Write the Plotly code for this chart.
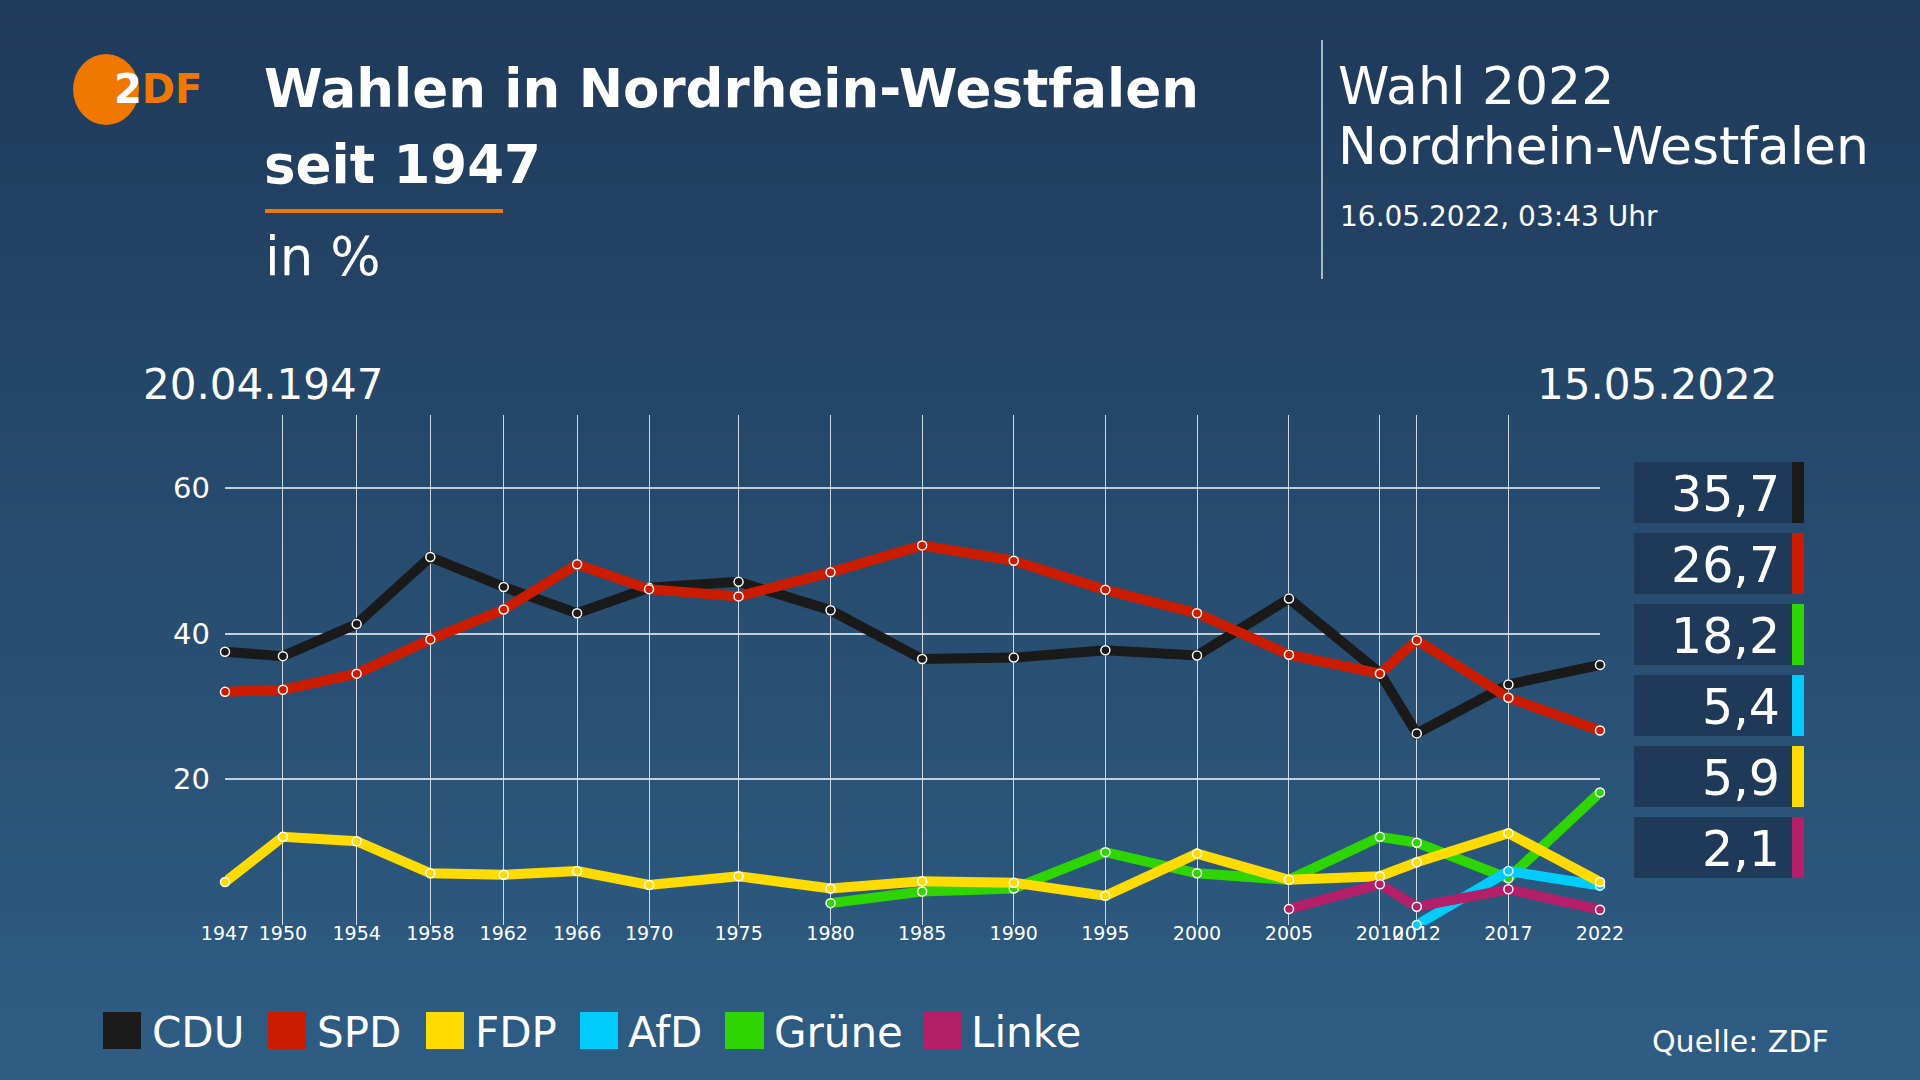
import plotly.graph_objects as go

# ---------------- data ----------------
dates = ["1947-04-20", "1950-06-18", "1954-06-27", "1958-07-06", "1962-07-08", "1966-07-10",
         "1970-06-14", "1975-05-04", "1980-05-11", "1985-05-12", "1990-05-13", "1995-05-14",
         "2000-05-14", "2005-05-22", "2010-05-09", "2012-05-13", "2017-05-14", "2022-05-15"]
years = ["1947", "1950", "1954", "1958", "1962", "1966", "1970", "1975", "1980", "1985",
         "1990", "1995", "2000", "2005", "2010", "2012", "2017", "2022"]

cdu = [37.5, 36.9, 41.3, 50.5, 46.4, 42.8, 46.3, 47.1, 43.2, 36.5, 36.7, 37.7, 37.0, 44.8, 34.6, 26.3, 33.0, 35.7]
spd = [32.0, 32.3, 34.5, 39.2, 43.3, 49.5, 46.1, 45.1, 48.4, 52.1, 50.0, 46.0, 42.8, 37.1, 34.5, 39.1, 31.2, 26.7]
fdp = [5.9, 12.1, 11.5, 7.1, 6.9, 7.4, 5.5, 6.7, 5.0, 6.0, 5.8, 4.0, 9.8, 6.2, 6.7, 8.6, 12.6, 5.9]
gruene_dates = dates[8:]
gruene = [3.0, 4.6, 5.0, 10.0, 7.1, 6.2, 12.1, 11.3, 6.4, 18.2]
afd_dates = dates[15:]
afd = [0.0, 7.4, 5.4]
linke_dates = dates[13:]
linke = [2.2, 5.6, 2.5, 4.9, 2.1]

box_labels = ["35,7", "26,7", "18,2", "5,4", "5,9", "2,1"]
box_colors = ["#1a1a1a", "#cc1c00", "#2ed500", "#00cdfd", "#ffdb00", "#b31f68"]

legend_names = ["CDU", "SPD", "FDP", "AfD", "Grüne", "Linke"]
legend_colors = ["#1a1a1a", "#cc1c00", "#ffdb00", "#00cdfd", "#2ed500", "#b31f68"]

C = {"CDU": "#1a1a1a", "SPD": "#cc1c00", "FDP": "#ffdb00", "AfD": "#00cdfd",
     "Grüne": "#2ed500", "Linke": "#b31f68"}

# ---------------- geometry helpers ----------------
W, H = 1920, 1080
L, R, T, B = 225, 1600, 415, 925
FONT = "DejaVu Sans"


def xp(px):
    return (px - L) / (R - L)


def yp(py):
    return (B - py) / (B - T)


fig = go.Figure()

series = [("CDU", dates, cdu), ("SPD", dates, spd), ("Grüne", gruene_dates, gruene),
          ("AfD", afd_dates, afd), ("FDP", dates, fdp), ("Linke", linke_dates, linke)]
for name, xs, ys in series:
    fig.add_trace(go.Scatter(
        x=xs, y=ys, mode="lines+markers", name=name, cliponaxis=False,
        line=dict(color=C[name], width=10),
        marker=dict(size=9, color=C[name], line=dict(color="white", width=1.5)),
        hoverinfo="skip"))

shapes = []
# background gradient
top = (0x1f, 0x3a, 0x5a)
bot = (0x2e, 0x5d, 0x83)
N = 90
for i in range(N):
    t = i / (N - 1)
    c = tuple(round(top[k] + (bot[k] - top[k]) * t) for k in range(3))
    y0 = H * i / N
    y1 = H * (i + 1) / N + 1
    shapes.append(dict(type="rect", xref="paper", yref="paper", layer="below",
                       x0=xp(0), x1=xp(W), y0=yp(y1), y1=yp(y0),
                       fillcolor="rgb(%d,%d,%d)" % c, line=dict(width=0)))

# logo circle
shapes.append(dict(type="circle", xref="paper", yref="paper", layer="above",
                   x0=xp(73), x1=xp(139), y0=yp(125), y1=yp(54),
                   fillcolor="#f07800", line=dict(width=0)))
# orange underline
shapes.append(dict(type="rect", xref="paper", yref="paper",
                   x0=xp(265), x1=xp(503), y0=yp(213), y1=yp(209),
                   fillcolor="#f07800", line=dict(width=0)))
# header separator line
shapes.append(dict(type="line", xref="paper", yref="paper",
                   x0=xp(1322), x1=xp(1322), y0=yp(279), y1=yp(40),
                   line=dict(color="#a9b6c4", width=2)))

annotations = []

# value boxes
for i, (lab, col) in enumerate(zip(box_labels, box_colors)):
    y_top = 462 + 71 * i
    y_bot = y_top + 61
    shapes.append(dict(type="rect", xref="paper", yref="paper",
                       x0=xp(1634), x1=xp(1792), y0=yp(y_bot), y1=yp(y_top),
                       fillcolor="#1f3a58", line=dict(width=0)))
    shapes.append(dict(type="rect", xref="paper", yref="paper",
                       x0=xp(1792), x1=xp(1804), y0=yp(y_bot), y1=yp(y_top),
                       fillcolor=col, line=dict(width=0)))
    annotations.append(dict(xref="paper", yref="paper", x=xp(1782), y=yp((y_top + y_bot) / 2 + 2),
                            xanchor="right", yanchor="middle", showarrow=False, text=lab,
                            font=dict(family=FONT, size=49, color="white")))

# legend
leg_sq = [(103, 141), (268, 306), (426, 464), (580, 618), (725, 764), (923, 961)]
leg_tx = [153, 318, 476, 629, 775, 972]
for (a, b), tx, name, col in zip(leg_sq, leg_tx, legend_names, legend_colors):
    shapes.append(dict(type="rect", xref="paper", yref="paper",
                       x0=xp(a), x1=xp(b), y0=yp(1049), y1=yp(1012),
                       fillcolor=col, line=dict(width=0)))
    annotations.append(dict(xref="paper", yref="paper", x=xp(tx - 3), y=yp(1032),
                            xanchor="left", yanchor="middle", showarrow=False, text=name,
                            font=dict(family=FONT, size=42, color="white")))


def txt(x, y, text, size, anchor="left", bold=False, color="white"):
    annotations.append(dict(xref="paper", yref="paper", x=xp(x), y=yp(y), xanchor=anchor,
                            yanchor="middle", showarrow=False,
                            text=("<b>%s</b>" % text) if bold else text,
                            font=dict(family=FONT, size=size, color=color)))


# logo text
annotations.append(dict(xref="paper", yref="paper", x=xp(112), y=yp(89), xanchor="left",
                        yanchor="middle", showarrow=False,
                        text="<b><span style='color:white'>2</span><span style='color:#f07800'>DF</span></b>",
                        font=dict(family="DejaVu Sans", size=40, color="white")))

txt(262, 88, "Wahlen in Nordrhein-Westfalen", 53, bold=True)
txt(262, 164, "seit 1947", 53, bold=True)
txt(263, 256, "in %", 53)
txt(1336, 86, "Wahl 2022", 52)
txt(1336, 146, "Nordrhein-Westfalen", 52)
txt(1338, 216, "16.05.2022, 03:43 Uhr", 28)
txt(141, 384, "20.04.1947", 42)
txt(1779, 384, "15.05.2022", 42, anchor="right")
txt(1831, 1041, "Quelle: ZDF", 30, anchor="right")

fig.update_layout(
    width=W, height=H,
    margin=dict(l=L, r=W - R, t=T, b=H - B, autoexpand=False),
    paper_bgcolor="#27496b", plot_bgcolor="rgba(0,0,0,0)",
    showlegend=False, shapes=shapes, annotations=annotations,
    font=dict(family=FONT, color="white"),
    xaxis=dict(type="date", range=["1947-04-20", "2022-05-15"], tickvals=dates, ticktext=years,
               showgrid=True, gridcolor="rgba(235,240,246,0.85)", gridwidth=1,
               zeroline=False, showline=False, ticks="", tickangle=0, ticklabelstandoff=-5,
               tickfont=dict(family=FONT, size=19, color="white")),
    yaxis=dict(range=[0, 70], tickvals=[20, 40, 60], ticktext=["20", "40", "60"],
               showgrid=True, gridcolor="rgba(220,230,240,0.85)", gridwidth=2,
               zeroline=False, showline=False, ticks="", ticklabelstandoff=14,
               tickfont=dict(family=FONT, size=29, color="white")),
)

fig.write_html("out.html", config={"displayModeBar": False},
               post_script="document.body.style.margin='0';document.body.style.overflow='hidden';")
